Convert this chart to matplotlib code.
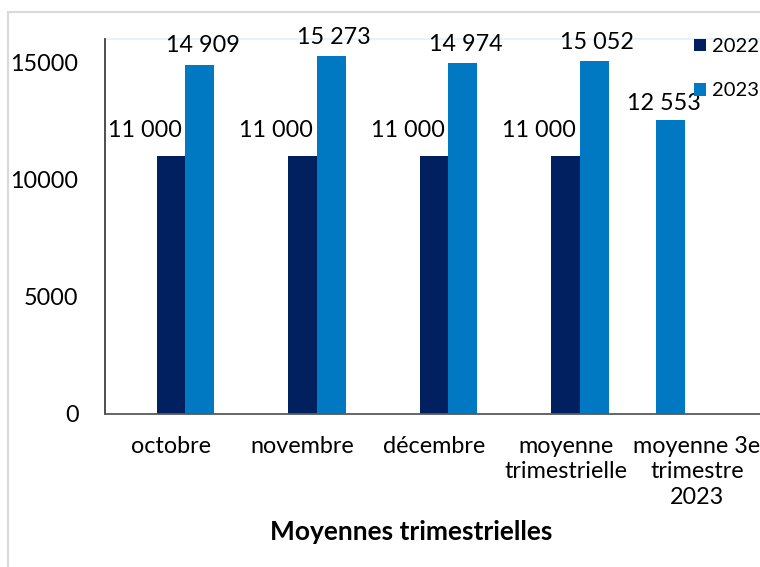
import matplotlib.pyplot as plt
import matplotlib.patches as mpatches
import numpy as np

categories = ['octobre', 'novembre', 'décembre', 'moyenne\ntrimestrielle',
              'moyenne 3e\ntrimestre\n2023']
v2022 = [11000, 11000, 11000, 11000, np.nan]
v2023 = [14909, 15273, 14974, 15052, 12553]
series = ['2022', '2023']
colors = ['#002060', '#0079c2']

plt.rcParams['font.family'] = ['Lato', 'DejaVu Sans']
fs = 16.8

fig = plt.figure(figsize=(7.6, 5.67), dpi=100)
ax = fig.add_axes([105 / 760, 1 - 414 / 567, 1 - 105 / 760, (414 - 39) / 567])

# light frame around the chart area
fig.patches.append(mpatches.Rectangle((8 / 760, -0.1), 1.2, 1 - 12 / 567 + 0.1,
                                      transform=fig.transFigure, fill=False,
                                      edgecolor='#d9d9d9', linewidth=1.5))

x = np.arange(len(categories))
w = 0.22
a22 = np.array(v2022, dtype=float)
a23 = np.array(v2023, dtype=float)
single = np.isnan(a22)
off23 = np.where(single, -0.2, w)

b1 = ax.bar(x, a22, w, color=colors[0], label=series[0])
b2 = ax.bar(x + off23, a23, w, color=colors[1], label=series[1])

for xi, v in zip(x, a22):
    if not np.isnan(v):
        ax.annotate(f'{v:,.0f}'.replace(',', ' '), (xi, v), xytext=(-19, 11),
                    textcoords='offset points', ha='center', va='bottom', fontsize=fs)
for xi, o, v, s in zip(x, off23, a23, single):
    ax.annotate(f'{v:,.0f}'.replace(',', ' '), (xi + o, v), xytext=(-5 if s else 2, 4 if s else 6),
                textcoords='offset points', ha='center', va='bottom', fontsize=fs)

ax.set_xlim(-0.502, 4.479)
ax.set_ylim(0, 16000)
ax.set_yticks([0, 5000, 10000, 15000])
ax.set_yticklabels(['0', '5000', '10000', '15000'], fontsize=fs)
ax.set_xticks(x)
ax.set_xticklabels(categories, fontsize=fs, linespacing=1.25)
ax.tick_params(axis='y', length=0, pad=19)
ax.tick_params(axis='x', length=0, pad=16)

for s in ['top', 'right']:
    ax.spines[s].set_visible(False)
ax.spines['left'].set_color('#404040')
ax.spines['bottom'].set_color('#595959')
ax.spines['left'].set_linewidth(1.3)
ax.spines['bottom'].set_linewidth(1.3)
ax.axhline(16000, color='#eaf1f8', linewidth=1.5, clip_on=False)

fig.text(411 / 760, 1 - 532 / 567, 'Moyennes trimestrielles', ha='center', va='center',
         fontsize=19, fontweight='bold')

fig.legend(handles=[b1, b2], loc='upper left', bbox_to_anchor=(686 / 760, 1 - 30 / 567),
           frameon=False, fontsize=14.5, handlelength=0.6, handleheight=0.6,
           handletextpad=0.3, labelspacing=1.35, borderaxespad=0)

fig.savefig('out.png', dpi=100)
